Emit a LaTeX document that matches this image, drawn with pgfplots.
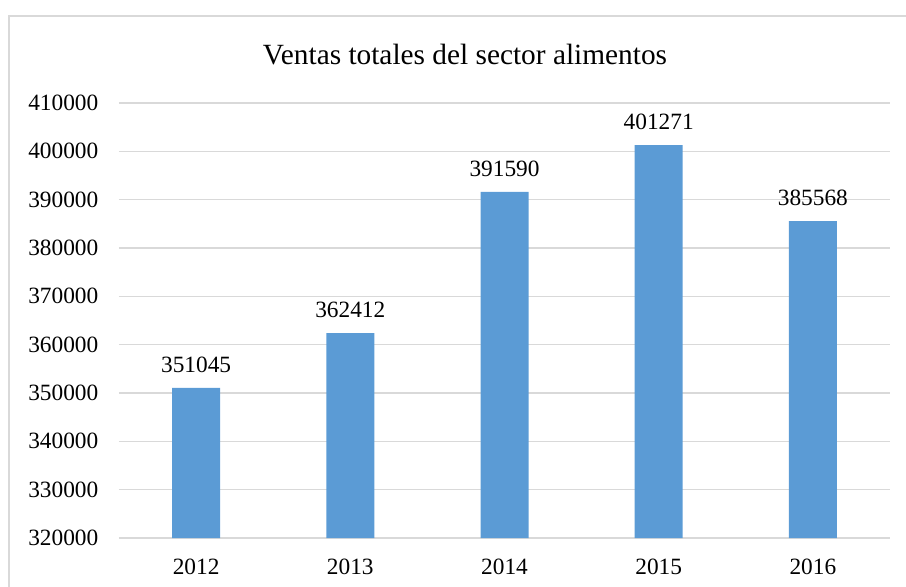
\documentclass[border=0pt]{standalone}
\usepackage{pgfplots}
\pgfplotsset{compat=1.18}
\usepackage{fontspec}
\setmainfont{Liberation Serif}
\definecolor{barblue}{HTML}{5B9BD5}
\definecolor{gridgray}{HTML}{D9D9D9}
\begin{document}
\begin{tikzpicture}
\begin{axis}[
  at={(0pt,0pt)}, anchor=south west,
  scale only axis,
  width=578.25pt, height=326.25pt,
  xmin=-0.5, xmax=4.5,
  ymin=320000, ymax=410000,
  ytick distance=10000,
  xtick={0,1,2,3,4},
  xticklabels={2012,2013,2014,2015,2016},
  ybar, bar width=36pt,
  axis line style={draw=none},
  major tick length=0pt,
  ymajorgrids,
  grid style={gridgray, line width=1.2pt},
  /pgf/number format/assume math mode=true,
  /pgf/number format/fixed,
  /pgf/number format/precision=0,
  /pgf/number format/1000 sep={},
  scaled y ticks=false,
  tick label style={font=\fontsize{17.5}{18}\selectfont, black},
  yticklabel style={xshift=-12pt},
  xticklabel style={yshift=-12pt},
  nodes near coords,
  nodes near coords style={font=\fontsize{17.5}{18}\selectfont, black, yshift=8pt},
  clip=false,
]
\addplot[fill=barblue, draw=none] coordinates {(0,351045) (1,362412) (2,391590) (3,401271) (4,385568)};
\end{axis}
\node[font=\fontsize{22}{24}\selectfont] at (259.5pt,362.25pt) {Ventas totales del sector alimentos};
\draw[gridgray, line width=1.2pt] (-82.5pt,-40pt) -- (-82.5pt,391.5pt) -- (600pt,391.5pt);
\pgfresetboundingbox
\useasboundingbox (-89.25pt,-36pt) rectangle (590.25pt,403.5pt);
\end{tikzpicture}
\end{document}
